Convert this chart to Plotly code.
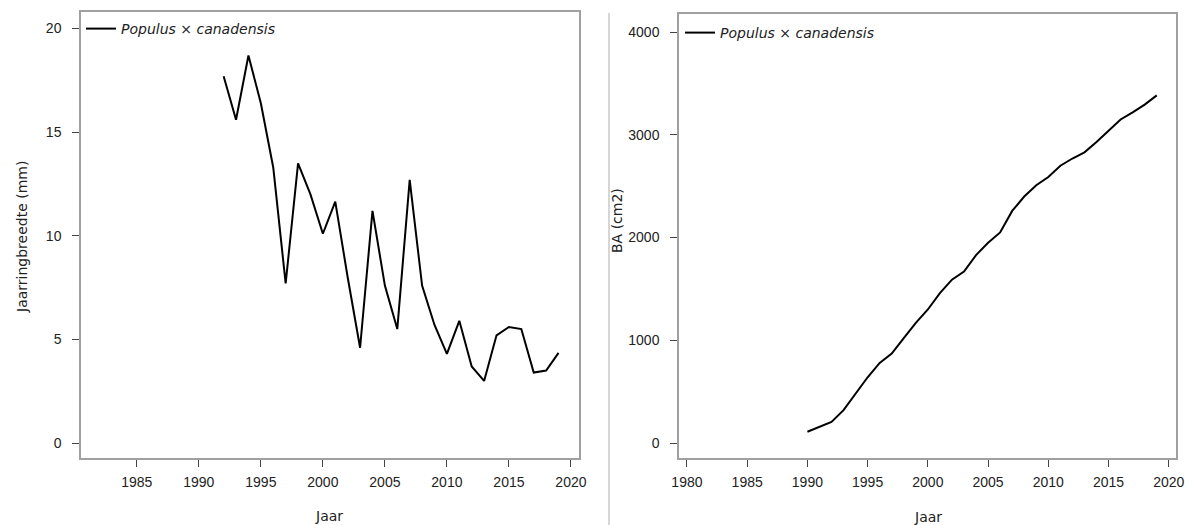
import plotly.graph_objects as go

W, H = 1192, 525

# ---- data ----
years_ring = list(range(1992, 2020))
ring_width = [17.7, 15.6, 18.7, 16.4, 13.3, 7.7, 13.5, 12.0, 10.1, 11.65, 8.0, 4.6,
              11.2, 7.6, 5.5, 12.7, 7.6, 5.7, 4.3, 5.9, 3.7, 3.0, 5.2, 5.6, 5.5,
              3.4, 3.5, 4.35]

years_ba = list(range(1990, 2020))
basal_area = [110, 160, 205, 320, 480, 640, 780, 870, 1020, 1170, 1300, 1460, 1590,
              1670, 1830, 1950, 2050, 2260, 2400, 2510, 2590, 2700, 2770, 2830,
              2930, 3040, 3150, 3220, 3295, 3385]

series_name = "Populus × canadensis"
x_title = "Jaar"
y_title_left = "Jaarringbreedte (mm)"
y_title_right = "BA (cm2)"
ticks_left_x = [1985, 1990, 1995, 2000, 2005, 2010, 2015, 2020]
ticks_right_x = [1980, 1985, 1990, 1995, 2000, 2005, 2010, 2015, 2020]
ticks_left_y = [0, 5, 10, 15, 20]
ticks_right_y = [0, 1000, 2000, 3000, 4000]

FONT = "Liberation Sans, Arial, sans-serif"
FONT_W = "DejaVu Sans, Verdana, sans-serif"
BOX = "#a0a0a0"
TICK = "#444444"
TXT = "#222222"

fig = go.Figure()
fig.add_trace(go.Scatter(x=years_ring, y=ring_width, mode="lines", name=series_name,
                         line=dict(color="black", width=2), xaxis="x", yaxis="y",
                         legend="legend"))
fig.add_trace(go.Scatter(x=years_ba, y=basal_area, mode="lines", name=series_name,
                         line=dict(color="black", width=2), xaxis="x2", yaxis="y2",
                         legend="legend2"))

def px(v):
    return v / W

def py(v):
    return (H - v) / H

axis_common = dict(showline=True, mirror=True, linecolor=BOX, linewidth=1.5,
                   ticks="outside", ticklen=7, tickcolor=TICK, tickwidth=1,
                   showgrid=False, zeroline=False,
                   tickfont=dict(family=FONT, size=14, color=TXT))

legend_font = dict(family=FONT_W, size=14, style="italic", color=TXT)

fig.update_layout(
    width=W, height=H, margin=dict(l=0, r=0, t=0, b=0, autoexpand=False),
    paper_bgcolor="white", plot_bgcolor="white",
    font=dict(family=FONT, color=TXT),
    xaxis=dict(domain=[px(81), px(579)], range=[1980.5, 2020.65], tickvals=ticks_left_x,
               anchor="y", ticklabelstandoff=3, **axis_common),
    yaxis=dict(domain=[py(458), py(12)], range=[-0.72, 20.8], tickvals=ticks_left_y,
               anchor="x", ticklabelstandoff=8, **axis_common),
    xaxis2=dict(domain=[px(679), px(1176)], range=[1979.34, 2020.6], tickvals=ticks_right_x,
                anchor="y2", ticklabelstandoff=3, **axis_common),
    yaxis2=dict(domain=[py(458), py(14)], range=[-146, 4177], tickvals=ticks_right_y,
                anchor="x2", ticklabelstandoff=8, **axis_common),
    legend=dict(x=px(81), y=py(13), xanchor="left", yanchor="top",
                bgcolor="rgba(0,0,0,0)", itemwidth=30, font=legend_font),
    legend2=dict(x=px(680), y=py(17), xanchor="left", yanchor="top",
                 bgcolor="rgba(0,0,0,0)", itemwidth=30, font=legend_font),
    showlegend=True,
)

title_font = dict(family=FONT_W, size=14, color=TXT)
ann = dict(xref="paper", yref="paper", showarrow=False, xanchor="center",
           yanchor="middle", font=title_font)
# axis titles
fig.add_annotation(text=x_title, x=px(329), y=py(516), **ann)
fig.add_annotation(text=x_title, x=px(928), y=py(517), **ann)
fig.add_annotation(text=y_title_left, x=px(22), y=py(237), textangle=-90, **ann)
fig.add_annotation(text=y_title_right, x=px(617), y=py(221), textangle=-90, **ann)

# divider between the two panels
fig.add_shape(type="line", xref="paper", yref="paper", x0=px(609), x1=px(609),
              y0=0, y1=py(13), line=dict(color="#c8c8c8", width=1.5))

fig.write_html(
    "out.html",
    config={"responsive": False, "displayModeBar": False},
    post_script="document.body.style.margin='0px';document.body.style.overflow='hidden';",
)
